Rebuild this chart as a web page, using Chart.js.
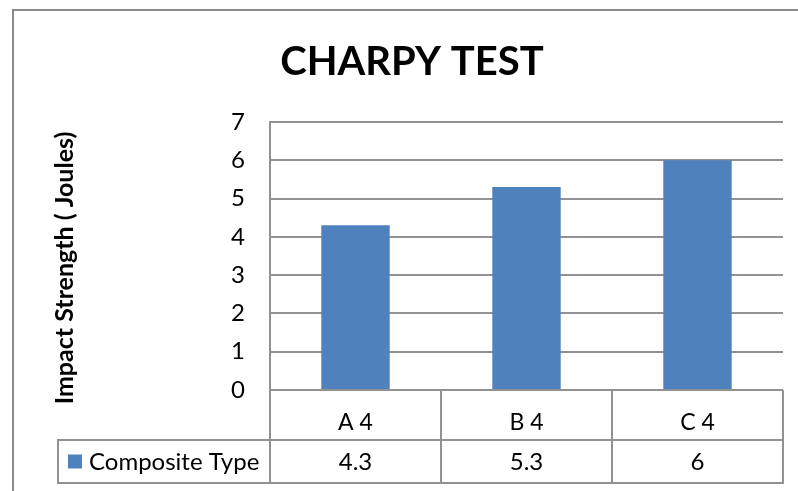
<!DOCTYPE html>
<html>
<head>
<meta charset="utf-8">
<title>Charpy Test</title>
<script src="https://cdn.jsdelivr.net/npm/chart.js@4"></script>
<style>
  html, body { margin: 0; padding: 0; background: #fff; }
  #wrap { width: 798px; height: 491px; position: relative; }
</style>
</head>
<body>
<div id="wrap"><canvas id="chart"></canvas></div>
<script>
'use strict';
//chart data
let categories = ['A 4', 'B 4', 'C 4'];
let seriesName = 'Composite Type';
let seriesValues = [4.3, 5.3, 6];
let yTicks = [0, 1, 2, 3, 4, 5, 6, 7];
let chartTitle = 'CHARPY TEST';
let yAxisTitle = 'Impact Strength ( Joules)';

//look
let barColor = '#4F81BD';
let lineColor = '#929292';
let fontName = 'Lato, Carlito, Calibri, sans-serif';

//draws the excel style data table, the frame and the y title
let dataTablePlugin = {
  id: 'dataTable',
  afterDraw(chart){
    let ctx = chart.ctx;
    let area = chart.chartArea;
    let xScale = chart.scales.x;
    let catWidth = (area.right - area.left) / categories.length;
    let rowOneBottom = area.bottom + 50;
    let rowTwoBottom = rowOneBottom + 43;
    let legendLeft = 58;

    ctx.save();
    ctx.strokeStyle = lineColor;
    ctx.lineWidth = 2;
    ctx.beginPath();
    //horizontal lines of the table
    ctx.moveTo(legendLeft - 1, rowOneBottom);
    ctx.lineTo(area.right + 1, rowOneBottom);
    ctx.moveTo(legendLeft - 1, rowTwoBottom);
    ctx.lineTo(area.right + 1, rowTwoBottom);
    //vertical lines of the table
    ctx.moveTo(legendLeft, rowOneBottom);
    ctx.lineTo(legendLeft, rowTwoBottom);
    for (let i = 0; i <= categories.length; i++){
      let x = Math.round(area.left + i * catWidth);
      ctx.moveTo(x, i === 0 ? area.top : area.bottom);
      ctx.lineTo(x, rowTwoBottom);
    }
    ctx.stroke();

    //legend key and series name
    let midRow = (rowOneBottom + rowTwoBottom) / 2;
    ctx.fillStyle = barColor;
    ctx.fillRect(68, midRow - 7, 14, 14);
    ctx.fillStyle = '#000';
    ctx.font = '24px ' + fontName;
    ctx.textBaseline = 'middle';
    ctx.textAlign = 'left';
    ctx.fillText(seriesName, 89, midRow + 1);

    //values under each category
    ctx.textAlign = 'center';
    for (let i = 0; i < seriesValues.length; i++){
      ctx.fillText(String(seriesValues[i]), xScale.getPixelForValue(i), midRow + 1);
    }

    //y axis title
    ctx.save();
    ctx.translate(65, 268);
    ctx.rotate(-Math.PI / 2);
    ctx.font = 'bold 25px ' + fontName;
    ctx.fillText(yAxisTitle, 0, 0);
    ctx.restore();

    //outer frame
    ctx.strokeStyle = '#8a8a8a';
    ctx.lineWidth = 2;
    ctx.beginPath();
    ctx.moveTo(13, chart.height);
    ctx.lineTo(13, 10);
    ctx.lineTo(chart.width, 10);
    ctx.stroke();
    ctx.restore();
  }
};

let ctx = document.getElementById('chart').getContext('2d');
new Chart(ctx, {
  type: 'bar',
  data: {
    labels: categories,
    datasets: [{
      label: seriesName,
      data: seriesValues,
      backgroundColor: barColor,
      borderWidth: 0,
      categoryPercentage: 1,
      barPercentage: 0.4
    }]
  },
  options: {
    responsive: true,
    maintainAspectRatio: false,
    animation: false,
    layout: {
      padding: { left: 41, right: 15, top: 0, bottom: 0 }
    },
    plugins: {
      legend: { display: false },
      tooltip: { enabled: false },
      title: {
        display: true,
        text: chartTitle,
        color: '#000',
        font: { family: fontName, size: 40, weight: 'bold' },
        padding: { top: 38, bottom: 36 }
      }
    },
    scales: {
      x: {
        grid: { display: false },
        border: { display: false },
        ticks: {
          color: '#000',
          font: { family: fontName, size: 23 },
          padding: 11
        },
        afterFit(scale){
          scale.height = 101;
        }
      },
      y: {
        min: 0,
        max: yTicks[yTicks.length - 1],
        grid: { color: lineColor, lineWidth: 2, drawTicks: false },
        border: { display: true, color: lineColor, width: 2 },
        ticks: {
          stepSize: 1,
          color: '#000',
          font: { family: fontName, size: 24 },
          padding: 25
        },
        afterFit(scale){
          scale.width = 229;
        }
      }
    }
  },
  plugins: [dataTablePlugin]
});
</script>
</body>
</html>
